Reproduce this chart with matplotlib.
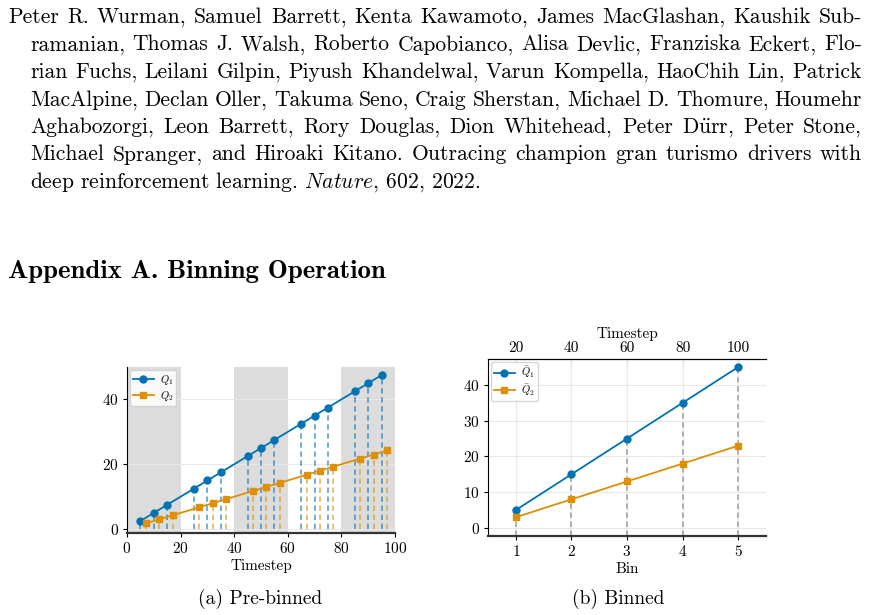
"""
Appendix page: binning operation, pre-binned vs binned Q values.
"""

import matplotlib
matplotlib.use('Agg')
import matplotlib.pyplot as plt

plt.rcParams['font.family'] = ['cmr10', 'Liberation Serif']
plt.rcParams['mathtext.fontset'] = 'cm'
plt.rcParams['axes.formatter.use_mathtext'] = True

# --- data -------------------------------------------------------------
steps_q1 = [5, 10, 15, 25, 30, 35, 45, 50, 55, 65, 70, 75, 85, 90, 95]
q1 = [2.5, 5, 7.5, 12.5, 15, 17.5, 22.5, 25, 27.5, 32.5, 35, 37.5, 42.5, 45, 47.5]
steps_q2 = [7, 12, 17, 27, 32, 37, 47, 52, 57, 67, 72, 77, 87, 92, 97]
q2 = [1.75, 3, 4.25, 6.75, 8, 9.25, 11.75, 13, 14.25, 16.75, 18, 19.25, 21.75, 23, 24.25]
shaded = [(0, 20), (40, 60), (80, 100)]

bins = [1, 2, 3, 4, 5]
bin_steps = [20, 40, 60, 80, 100]
q1_bar = [5, 15, 25, 35, 45]
q2_bar = [3, 8, 13, 18, 23]

ref_lines = [
    "Peter R. Wurman, Samuel Barrett, Kenta Kawamoto, James MacGlashan, Kaushik Sub-",
    "ramanian, Thomas J. Walsh, Roberto Capobianco, Alisa Devlic, Franziska Eckert, Flo-",
    "rian Fuchs, Leilani Gilpin, Piyush Khandelwal, Varun Kompella, HaoChih Lin, Patrick",
    "MacAlpine, Declan Oller, Takuma Seno, Craig Sherstan, Michael D. Thomure, Houmehr",
    r"Aghabozorgi, Leon Barrett, Rory Douglas, Dion Whitehead, Peter D$\ddot{\mathrm{u}}$rr, Peter Stone,",
    "Michael Spranger, and Hiroaki Kitano. Outracing champion gran turismo drivers with",
]
ref_last = r"deep reinforcement learning. $\mathit{Nature}$, 602, 2022."
heading = "Appendix A. Binning Operation"

BLUE = '#0173b2'
ORANGE = '#de8f05'
W, H = 875, 615

fig = plt.figure(figsize=(W / 100, H / 100), dpi=100)
renderer = fig.canvas.get_renderer()


def fx(px):
    return px / W


def fy(py):
    return 1 - py / H


def word_widths(words, size):
    out = []
    for w in words:
        t = fig.text(0, 0, w, fontsize=size)
        out.append(t.get_window_extent(renderer=renderer).width)
        t.remove()
    return out


def justified(text, x0, x1, y, size):
    words = text.split(' ')
    widths = word_widths(words, size)
    gap = (x1 - x0 - sum(widths)) / (len(words) - 1)
    x = x0
    for w, wd in zip(words, widths):
        fig.text(fx(x), fy(y), w, fontsize=size, va='baseline', ha='left')
        x += wd + gap


# pick the body size so the tightest justified line has normal word spacing
body = 15.0
space = 0.3 * body * 100 / 72
ratios = []
for i, line in enumerate(ref_lines):
    x0 = 8 if i == 0 else 30
    ws = word_widths(line.split(' '), body)
    ratios.append((862 - x0) / (sum(ws) + space * (len(ws) - 1)))
body = body * min(ratios)

base0, step = 23, 27.5
for i, line in enumerate(ref_lines):
    x0 = 8 if i == 0 else 30
    justified(line, x0, 862, base0 + i * step, body)
fig.text(fx(30), fy(base0 + 6 * step), ref_last, fontsize=body, va='baseline')

fig.text(fx(8), fy(278), heading, fontsize=19.3, family=['cmb10'], va='baseline')


def style(ax):
    ax.tick_params(direction='out', length=3, width=0.8, labelsize=11, pad=3)
    ax.spines['right'].set_visible(False)
    ax.spines['left'].set_linewidth(0.8)
    ax.spines['bottom'].set_color('#333333')
    ax.spines['bottom'].set_linewidth(1.6)


legend_kw = dict(loc='upper left', fontsize=7.5, handlelength=2.0, framealpha=0.85,
                 edgecolor='#d0d0d0', borderpad=0.3, labelspacing=0.2,
                 borderaxespad=0.25, handletextpad=0.6)

# --- (a) pre-binned ---------------------------------------------------
ax = fig.add_axes([fx(127), fy(533), fx(395) - fx(127), (533 - 367) / H])
for a, b in shaded:
    ax.axvspan(a, b, color='#dcdcdc', lw=0, zorder=0)
ax.grid(axis='y', color='#e8e8e8', lw=0.8, zorder=0.5)
ax.vlines(steps_q1, 0, q1, colors=BLUE, linestyles=(0, (3, 2)), lw=1.3, alpha=0.6)
ax.vlines(steps_q2, 0, q2, colors=ORANGE, linestyles=(0, (3, 2)), lw=1.3, alpha=0.6)
ax.plot(steps_q1, q1, '-o', color=BLUE, ms=5, lw=1.3, label=r'$Q_1$')
ax.plot(steps_q2, q2, '-s', color=ORANGE, ms=5, lw=1.3, label=r'$Q_2$')
ax.set_xlim(0, 100)
ax.set_ylim(-1.2, 50)
ax.set_xticks([0, 20, 40, 60, 80, 100])
ax.set_yticks([0, 20, 40])
ax.spines['top'].set_visible(False)
style(ax)
ax.set_xlabel('Timestep', fontsize=11, labelpad=2)
ax.legend(**legend_kw)

# --- (b) binned -------------------------------------------------------
bx = fig.add_axes([fx(488), fy(536), fx(766) - fx(488), (536 - 359) / H])
bx.grid(color='#e8e8e8', lw=0.8)
bx.set_axisbelow(True)
bx.set_xlim(0.5, 5.5)
bx.set_ylim(-2.25, 47.25)
bx.vlines(bins, -2.25, q1_bar, colors='#aaaaaa', linestyles=(0, (3, 2)), lw=1.3)
bx.plot(bins, q1_bar, '-o', color=BLUE, ms=5, lw=1.3, label=r'$\bar{Q}_1$')
bx.plot(bins, q2_bar, '-s', color=ORANGE, ms=5, lw=1.3, label=r'$\bar{Q}_2$')
bx.set_xticks(bins)
bx.set_yticks([0, 10, 20, 30, 40])
bx.spines['top'].set_linewidth(0.8)
style(bx)
bx.set_xlabel('Bin', fontsize=11, labelpad=2)
top = bx.secondary_xaxis('top')
top.set_xticks(bins, labels=[str(s) for s in bin_steps])
top.tick_params(direction='in', length=3, width=0.8, labelsize=11, pad=3)
top.set_xlabel('Timestep', fontsize=11, labelpad=2)
bx.legend(**legend_kw)

fig.text(fx(260), fy(604), '(a) Pre-binned', fontsize=14, ha='center', va='baseline')
fig.text(fx(618), fy(604), '(b) Binned', fontsize=14, ha='center', va='baseline')

fig.savefig('out.png', dpi=100)
